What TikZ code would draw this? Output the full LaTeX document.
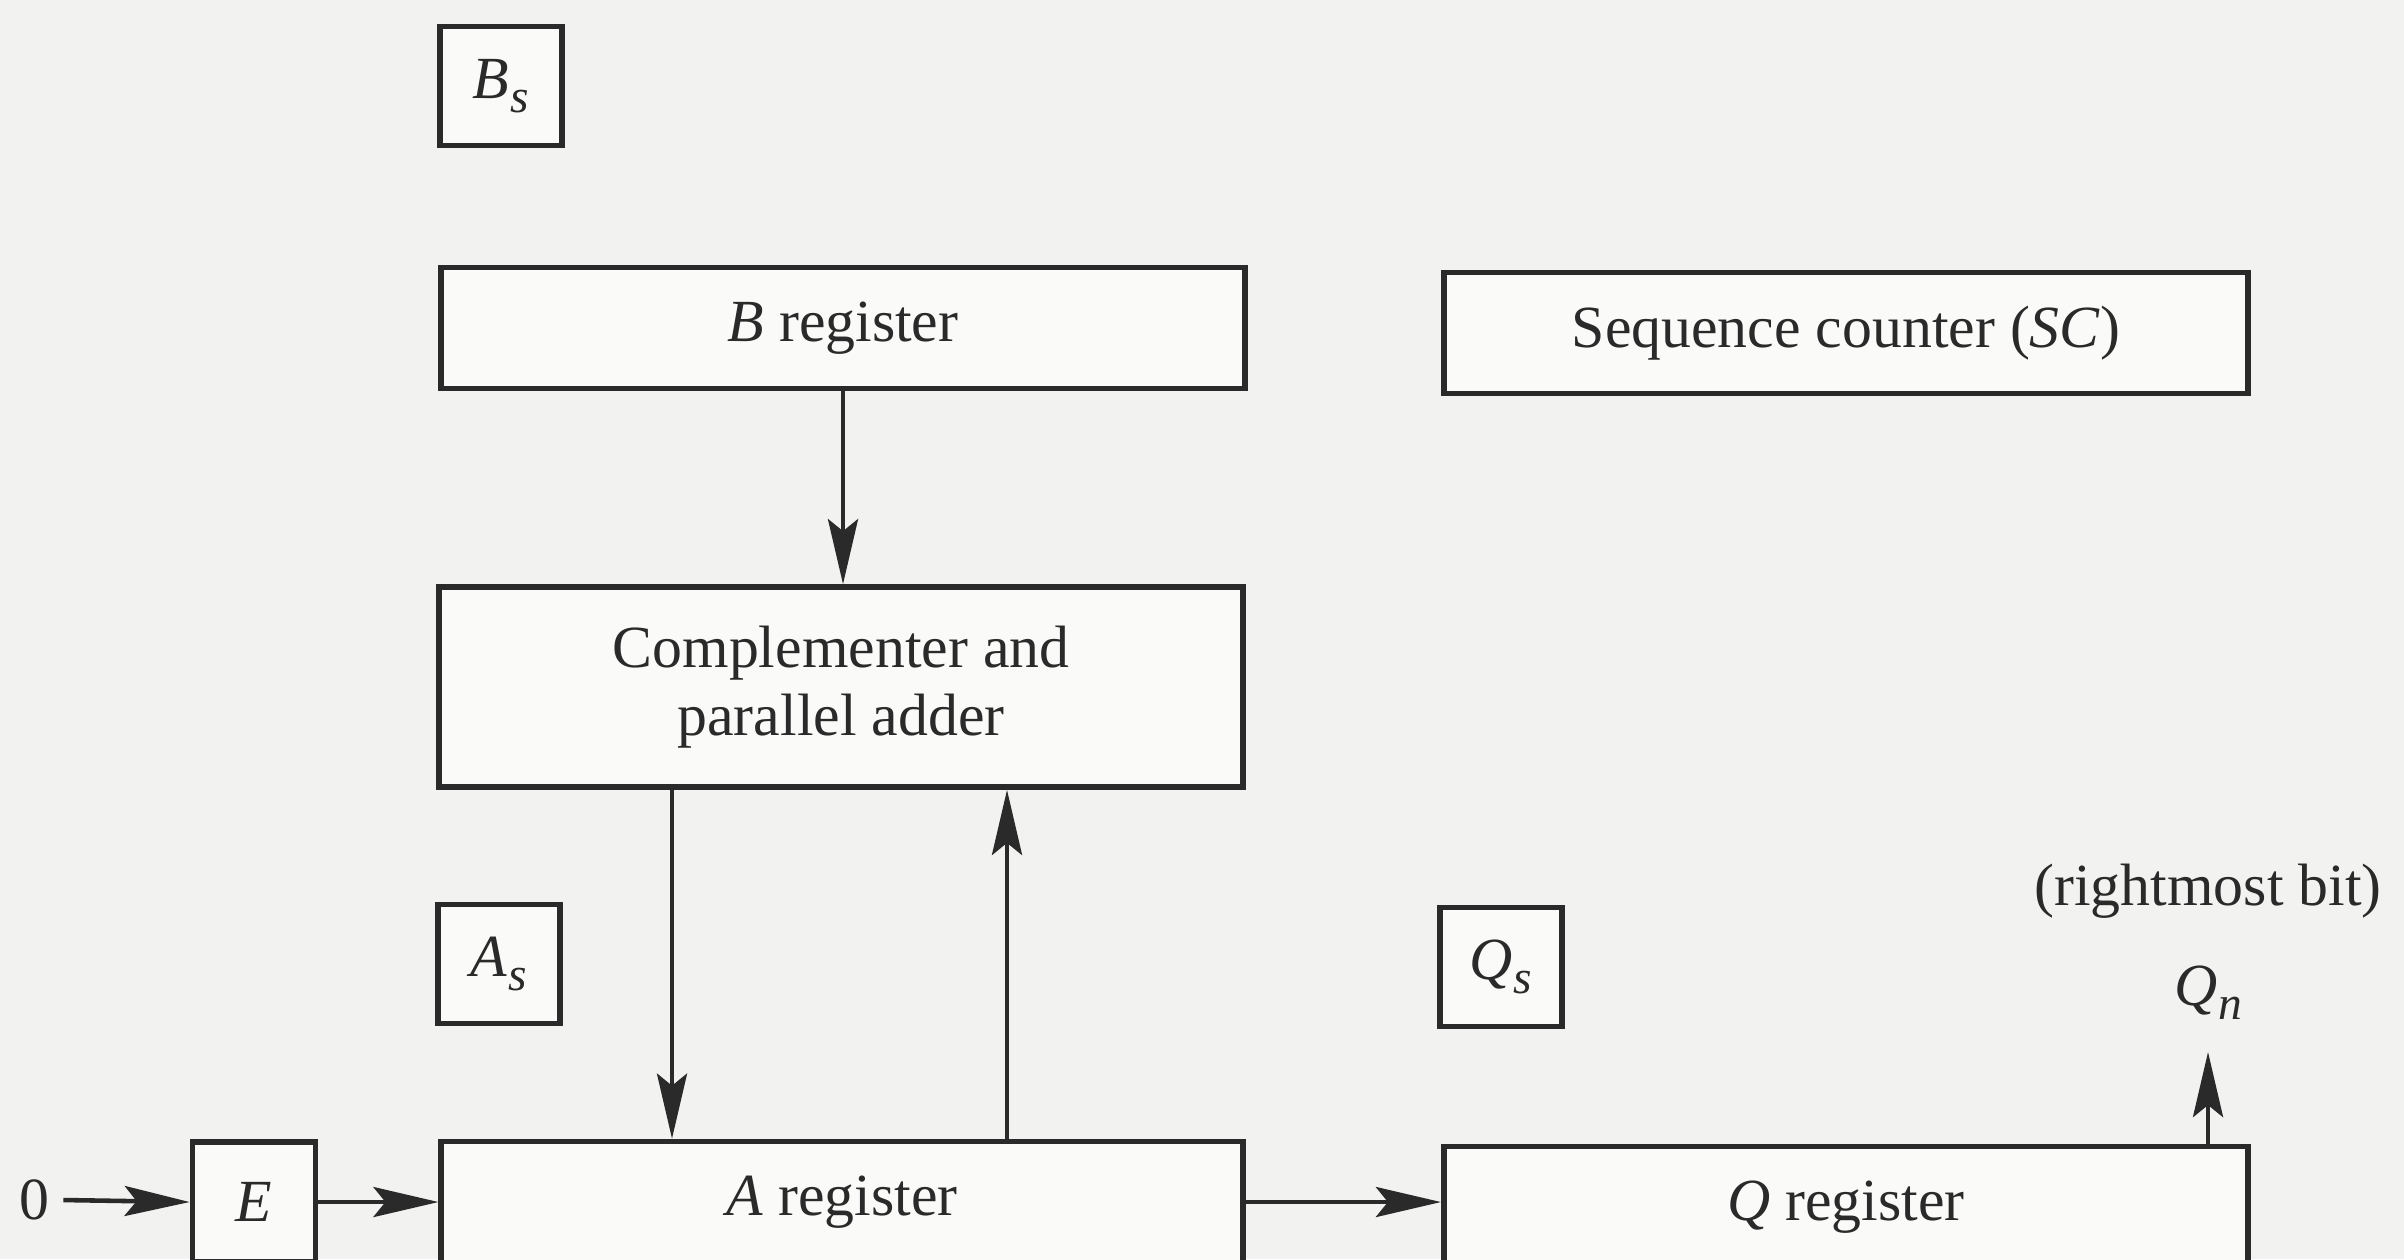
\documentclass[tikz,border=0pt]{standalone}
\usepackage{fontspec}
\setmainfont{Liberation Serif}
\usetikzlibrary{arrows.meta}
\newcommand{\subtxt}[2]{\textit{#1}\kern0.3pt\raisebox{-0.5ex}{\fontsize{13.5}{13.5}\selectfont\textit{#2}}}
\definecolor{ink}{HTML}{2A2A2A}
\definecolor{paper}{HTML}{F2F2F0}
\begin{document}
\begin{tikzpicture}[x=0.01cm,y=-0.01cm,
  every node/.style={text=ink,font=\fontsize{17}{19.5}\selectfont},
  regbox/.style={draw=ink,line width=1.6pt,fill=white!60!paper,inner sep=0pt,align=center},
  flagbox/.style={regbox,minimum width=1.22cm,minimum height=1.19cm},
  wide/.style={regbox,minimum width=8.03cm,minimum height=1.21cm},
  conn/.style={draw=ink,line width=1.3pt,-{Stealth[length=6.5mm,width=3mm,inset=1.2mm]}}]
\useasboundingbox (0,0) rectangle (2404,1259);
\fill[paper] (0,0) rectangle (2404,1259);
\clip (0,0) rectangle (2404,1259);
% nodes
\node[flagbox] (Bs) at (501,86) {\subtxt{B}{s}};
\node[wide] (B) at (843,328) {\textit{B} register};
\node[wide,minimum width=8.04cm] (SC) at (1846,333) {Sequence counter (\textit{SC})};
\node[wide,minimum height=2.0cm] (C) at (841,687) {Complementer and\\parallel adder};
\node[flagbox] (As) at (499,964) {\subtxt{A}{s}};
\node[flagbox] (Qs) at (1501,967) {\subtxt{Q}{s}};
\node[flagbox,minimum width=1.23cm,minimum height=1.2cm] (E) at (254,1202) {\textit{E}};
\node[wide,minimum width=8.01cm] (A) at (842,1202) {\textit{A} register};
\node[wide,minimum width=8.04cm] (Q) at (1846,1207) {\textit{Q} register};
\node (zero) at (34,1200) {0};
\node (Qn) at (2208,993) {\subtxt{Q}{n}};
\node (rb) at (2208,891) {(rightmost bit)};
\coordinate (qtip) at (2208,1052);
% connectors
\draw[conn] (zero.east) ++(2,0) coordinate (z0) -- (E.west);
\draw[conn] (E.east) -- (A.west);
\draw[conn] (B.south) -- (B.south |- C.north);
\draw[conn] (C.south -| 672,0) -- (A.north -| 672,0);
\draw[conn] (A.north -| 1007,0) -- (C.south -| 1007,0);
\draw[conn] (A.east) -- (A.east -| Q.west);
\draw[conn] (Q.north -| qtip) -- (qtip);
\end{tikzpicture}
\end{document}
